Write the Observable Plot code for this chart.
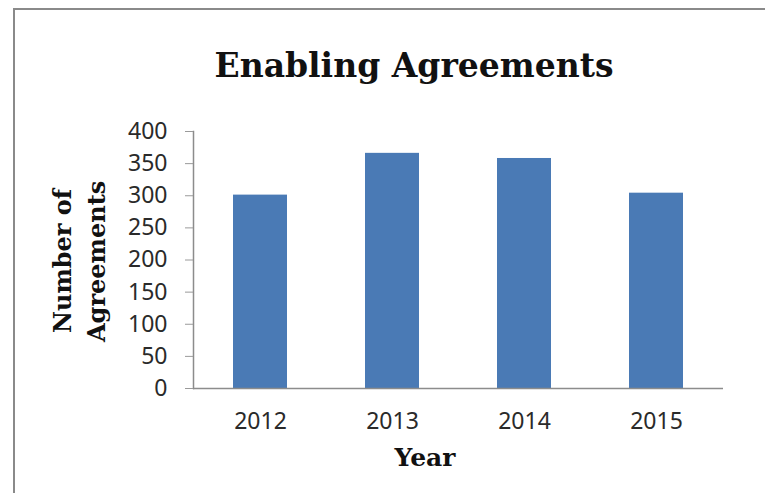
<!DOCTYPE html>
<html>
<head>
<meta charset="utf-8">
<script src="https://cdn.jsdelivr.net/npm/d3@7"></script>
<script src="https://cdn.jsdelivr.net/npm/@observablehq/plot@0.6"></script>
<style>
  html, body { margin: 0; padding: 0; background: #fff; }
  #wrap { position: relative; width: 765px; height: 493px; overflow: hidden; background: #fff; }
  #border { position: absolute; left: 13px; top: 8px; width: 900px; height: 700px; border-top: 2px solid #8a8a8a; border-left: 2px solid #8a8a8a; }
  #title { position: absolute; left: 0; width: 828px; top: 46px; text-align: center; font-family: "DejaVu Serif", serif; font-weight: bold; font-size: 33px; color: #111; }
  .ylab { position: absolute; font-family: "DejaVu Serif", serif; font-weight: bold; font-size: 24px; color: #111; white-space: nowrap; transform-origin: 0 0; }
  #xlab { position: absolute; left: 0; width: 850px; top: 443px; text-align: center; font-family: "DejaVu Serif", serif; font-weight: bold; font-size: 25px; color: #111; }
  #chart { position: absolute; left: 0; top: 0; }
</style>
</head>
<body>
<div id="wrap">
  <div id="border"></div>
  <div id="chart"></div>
  <div id="title">Enabling Agreements</div>
  <div id="ylab1" class="ylab">Number of</div>
  <div id="ylab2" class="ylab">Agreements</div>
  <div id="xlab">Year</div>
</div>
<script>
const years = ["2012", "2013", "2014", "2015"];
const agreements = [301, 366, 358, 304];
const yTicks = [0, 50, 100, 150, 200, 250, 300, 350, 400];

const data = years.map((y, i) => ({year: y, value: agreements[i]}));

const chart = Plot.plot({
  width: 765,
  height: 493,
  marginLeft: 193,
  marginRight: 42,
  marginTop: 131,
  marginBottom: 105,
  style: {background: "transparent", fontFamily: "'Noto Sans', sans-serif"},
  x: {domain: years, paddingInner: 0.59, paddingOuter: 0.295, label: null},
  y: {domain: [0, 400], label: null},
  marks: [
    Plot.barY(data, {x: "year", y: "value", fill: "#4a7ab5"}),
    Plot.ruleY([0], {stroke: "#8c8c8c", strokeWidth: 1.5}),
    Plot.frame({anchor: "left", stroke: "#8c8c8c", strokeWidth: 1.5}),
    Plot.axisY({ticks: yTicks, tickSize: 8, tickPadding: 18, stroke: "#9a9a9a", fontSize: 23, fill: "#2a2a2a", label: null, tickFormat: d => String(d)}),
    Plot.axisX({tickSize: 0, tickPadding: 24, fontSize: 23, fill: "#2a2a2a", label: null})
  ]
});
document.getElementById("chart").appendChild(chart);

const l1 = document.getElementById("ylab1");
const l2 = document.getElementById("ylab2");
function place(el, cx, cy) {
  const w = el.offsetWidth, h = el.offsetHeight;
  el.style.left = (cx - h / 2) + "px";
  el.style.top = (cy + w / 2) + "px";
  el.style.transform = "rotate(-90deg)";
}
place(l1, 62, 261);
place(l2, 96, 261);
</script>
</body>
</html>
